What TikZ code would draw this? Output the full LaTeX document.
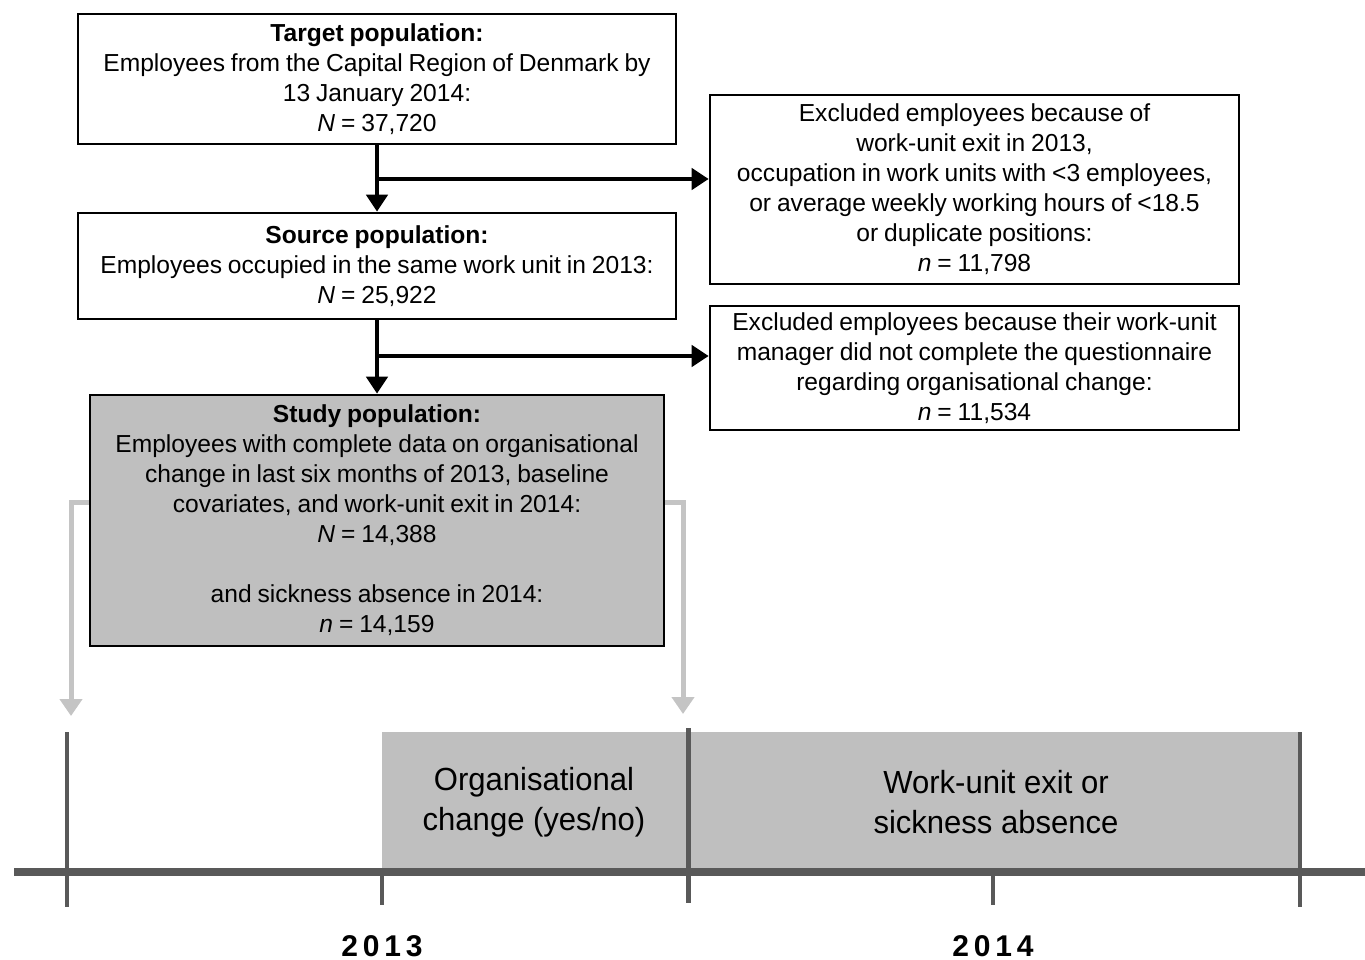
\documentclass[tikz,border=0pt]{standalone}
\usepackage{fontspec}
\setmainfont{Liberation Sans}
\newfontfamily\yearfont[LetterSpace=16]{Liberation Sans}
\usetikzlibrary{arrows.meta}
\definecolor{boxgray}{RGB}{191,191,191}
\definecolor{axisgray}{RGB}{89,89,89}
\definecolor{arrgray}{RGB}{196,196,196}
\newcommand{\myboxfont}{\fontsize{24.6}{30}\selectfont\spaceskip=0.24em plus 0.1em minus 0.05em\relax}
\begin{document}
\begin{tikzpicture}[x=1pt,y=-1pt,
  box/.style={draw=black,line width=2.6pt,inner sep=0pt,align=center,
    font=\myboxfont},
  flow/.style={line width=4.5pt,-{Triangle[length=17pt,width=21pt]}},
  gflow/.style={draw=arrgray,line width=5pt,line join=miter,
    -{Triangle[length=17pt,width=22pt]}},
  tl/.style={font=\fontsize{32}{40}\selectfont,align=center,inner sep=0pt,xscale=0.97},
  yr/.style={font=\yearfont\bfseries\fontsize{30}{30}\selectfont,inner sep=0pt},
  tick/.style={draw=axisgray,line width=4pt}]
\useasboundingbox (0,0) rectangle (1365,960);

% flow boxes
\node[box,minimum width=598pt,minimum height=130pt] (target) at (377,79)
  {\textbf{Target population:}\\Employees from the Capital Region of Denmark by\\13 January 2014:\\\textit{N} = 37,720};
\node[box,minimum width=529pt,minimum height=189pt] (excl1) at (974.5,189.5)
  {Excluded employees because of\\work-unit exit in 2013,\\occupation in work units with {<}3 employees,\\or average weekly working hours of {<}18.5\\or duplicate positions:\\\textit{n} = 11,798};
\node[box,minimum width=598pt,minimum height=106pt] (source) at (377,266)
  {\textbf{Source population:}\\Employees occupied in the same work unit in 2013:\\\textit{N} = 25,922};
\node[box,minimum width=529pt,minimum height=124pt] (excl2) at (974.5,368)
  {Excluded employees because their work-unit\\manager did not complete the questionnaire\\regarding organisational change:\\\textit{n} = 11,534};
\node[box,fill=boxgray,minimum width=574pt,minimum height=251pt] (study) at (377,520.5)
  {\textbf{Study population:}\\Employees with complete data on organisational\\change in last six months of 2013, baseline\\covariates, and work-unit exit in 2014:\\\textit{N} = 14,388\\[30pt]and sickness absence in 2014:\\\textit{n} = 14,159};

% flow connectors
\draw[flow] (target.south) -- (source.north);
\coordinate (b1) at (377,179);
\draw[flow] (b1) -- (b1 -| excl1.west);
\draw[flow] (source.south) -- (study.north);
\coordinate (b2) at (377,356);
\draw[flow] (b2) -- (b2 -| excl2.west);

% timeline
\fill[boxgray] (382,732) rectangle (688,868);
\fill[boxgray] (688,732) rectangle (1300,868);
\node[tl] (orgc) at (534,802) {Organisational\\change (yes/no)};
\node[tl] (exitc) at (996,802) {Work-unit exit or\\sickness absence};
\draw[axisgray,line width=8pt] (14,872) -- (1365,872);
\draw[tick] (67,732) -- (67,907);
\draw[tick] (382,872) -- (382,905);
\draw[tick,line width=5pt] (688,728) -- (688,903);
\draw[tick] (993,872) -- (993,905);
\draw[tick] (1300,732) -- (1300,907);
\node[yr] (y13) at (382,946) {2013};
\node[yr] (y14) at (993,946) {2014};

% gray connectors to timeline
\coordinate (tl1) at (71,716);
\coordinate (tl2) at (683,714);
\draw[gflow] ([yshift=18.5pt]study.west) -| (tl1);
\draw[gflow] ([yshift=18.5pt]study.east) -| (tl2);
\end{tikzpicture}
\end{document}
